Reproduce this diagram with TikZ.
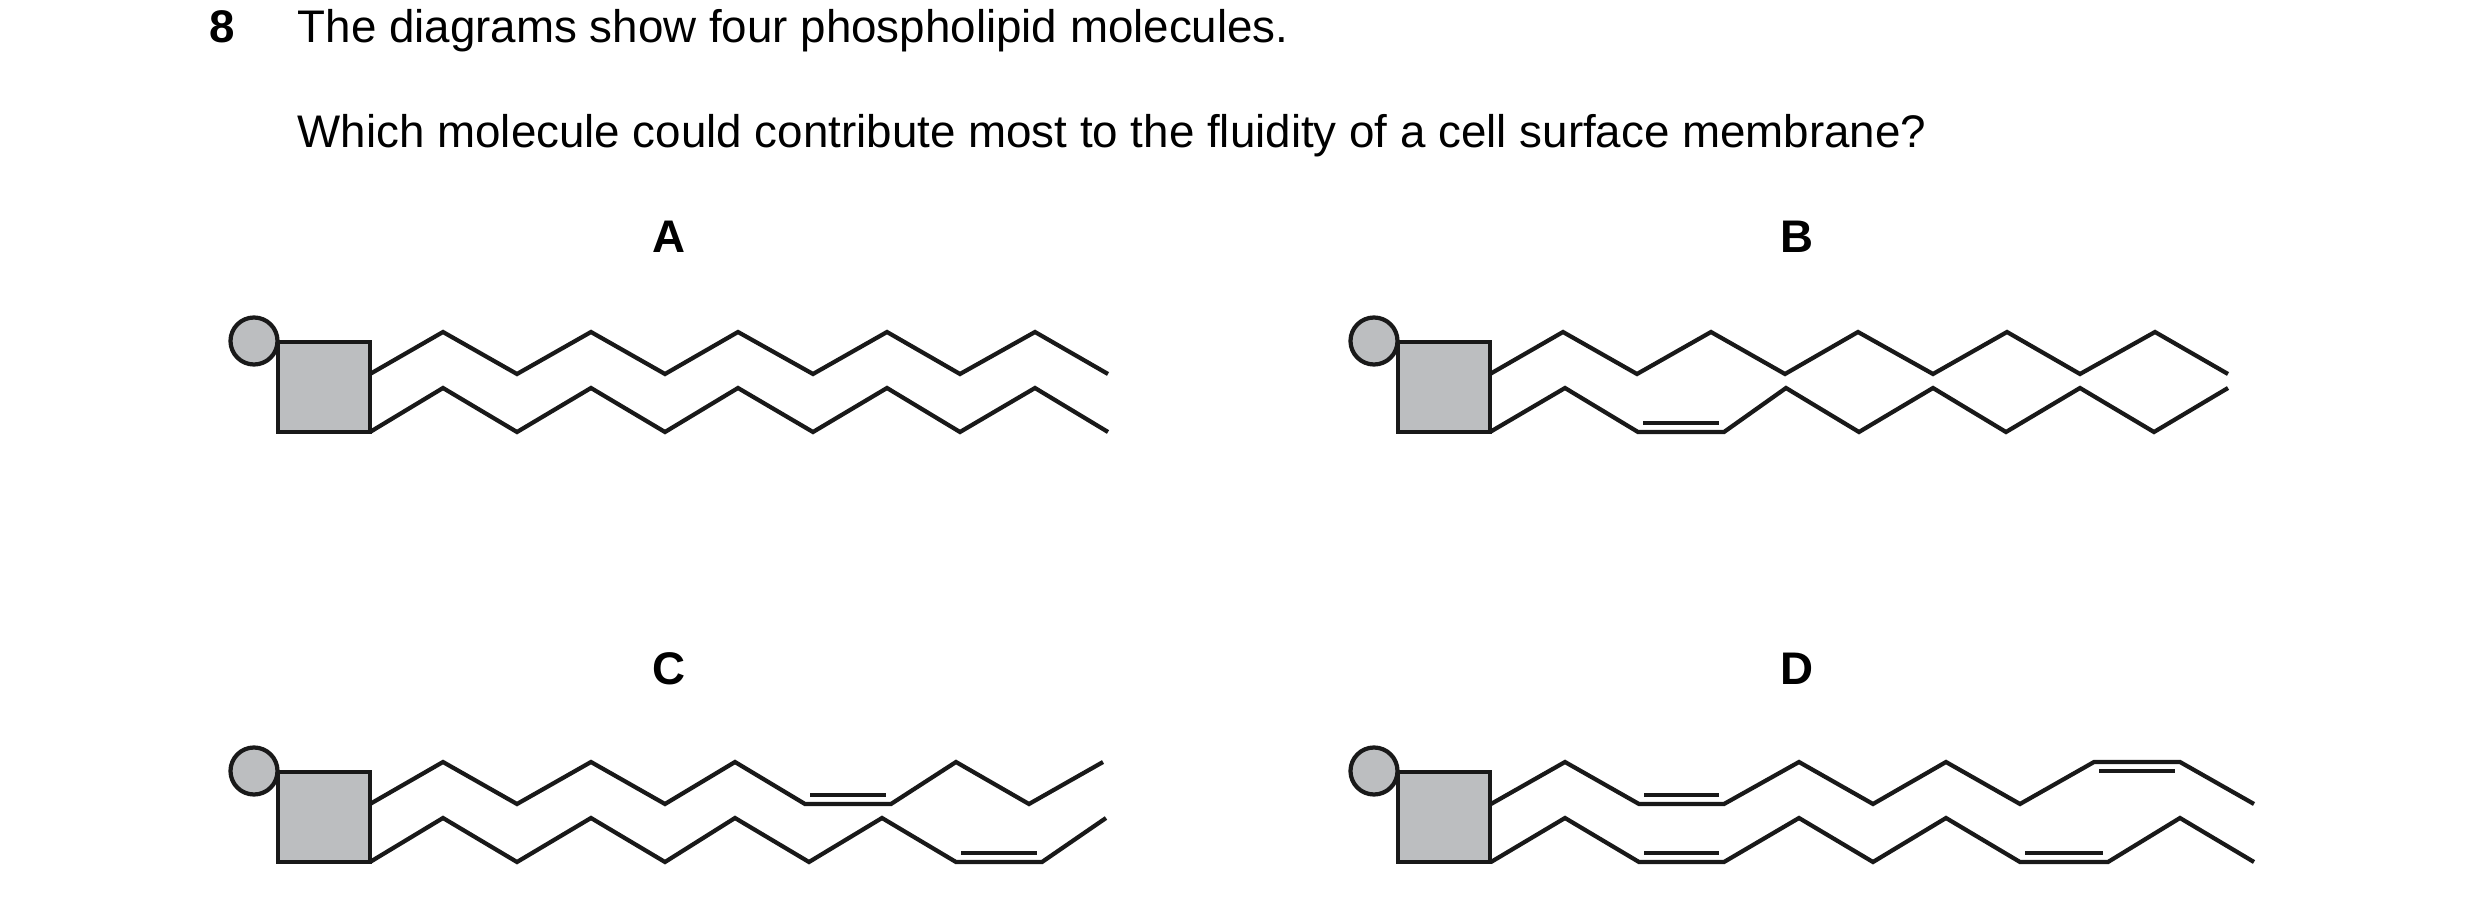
\documentclass[tikz,border=0pt]{standalone}
\usepackage{fontspec}
\setmainfont{Liberation Sans}
\definecolor{hd}{HTML}{BCBEC0}
\begin{document}
\begin{tikzpicture}[x=0.01cm,y=-0.01cm,
  chain/.style={line width=1.2pt,line join=miter,color=black!90},
  head/.style={draw=black!90,line width=1.2pt,fill=hd,inner sep=0pt},
  txt/.style={anchor=base west,font=\fontsize{13pt}{15pt}\selectfont,inner sep=0pt},
  lab/.style={anchor=base,font=\fontsize{13pt}{15pt}\selectfont\bfseries,inner sep=0pt}]
\useasboundingbox (0,0) rectangle (2480,903);
\node[txt,font=\fontsize{13pt}{15pt}\selectfont\bfseries] (n) at (209,42) {8};
\node[txt] (q1) at (297,42) {The diagrams show four phospholipid molecules.};
\node[txt] (q2) at (297,147) {Which molecule could contribute most to the fluidity of a cell surface membrane?};
\node[lab] (la) at (669,252) {A};
\node[lab] (lb) at (1797,252) {B};
\node[lab] (lc) at (669,684) {C};
\node[lab] (ld) at (1797,684) {D};
% heads
\foreach \n/\x/\y in {a/0/0,b/1120/0,c/0/430,d/1120/430}{
  \node[head,circle,minimum size=0.47cm] (c\n) at (254+\x,341+\y) {};
  \node[head,rectangle,minimum width=0.92cm,minimum height=0.90cm] (s\n) at (324+\x,387+\y) {};
}
% A
\draw[chain] (370,374)--(443,332)--(517,374)--(591,332)--(665,374)--(738,332)--(813,374)--(887,332)--(960,374)--(1035,332)--(1108,374);
\draw[chain] (370,432)--(443,388)--(517,432)--(591,388)--(665,432)--(738,388)--(813,432)--(887,388)--(960,432)--(1035,388)--(1108,432);
% B
\draw[chain] (1490,374)--(1563,332)--(1637,374)--(1711,332)--(1785,374)--(1858,332)--(1933,374)--(2007,332)--(2080,374)--(2155,332)--(2228,374);
\draw[chain] (1490,432)--(1565,388)--(1638,432)--(1724,432)--(1786,388)--(1859,432)--(1933,388)--(2006,432)--(2080,388)--(2154,432)--(2228,388);
\draw[chain] (1643,423)--(1719,423);
% C
\draw[chain] (370,804)--(443,762)--(517,804)--(591,762)--(665,804)--(735,762)--(805,804)--(891,804)--(956,762)--(1029,804)--(1103,762);
\draw[chain] (810,795)--(886,795);
\draw[chain] (370,862)--(443,818)--(517,862)--(591,818)--(665,862)--(735,818)--(809,862)--(882,818)--(956,862)--(1042,862)--(1106,818);
\draw[chain] (961,853)--(1037,853);
% D
\draw[chain] (1491,804)--(1565,762)--(1639,804)--(1724,804)--(1799,762)--(1873,804)--(1946,762)--(2020,804)--(2094,762)--(2180,762)--(2254,804);
\draw[chain] (1644,795)--(1719,795);
\draw[chain] (2099,771)--(2175,771);
\draw[chain] (1491,862)--(1565,818)--(1639,862)--(1724,862)--(1799,818)--(1873,862)--(1946,818)--(2020,862)--(2108,862)--(2180,818)--(2254,862);
\draw[chain] (1644,853)--(1719,853);
\draw[chain] (2025,853)--(2103,853);
\end{tikzpicture}
\end{document}
